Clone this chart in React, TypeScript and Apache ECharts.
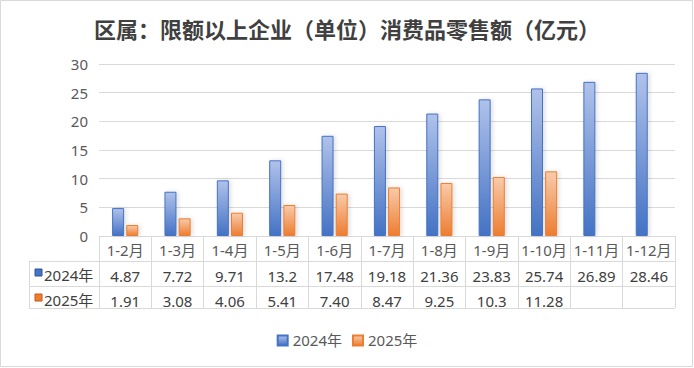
import React, { useEffect, useRef } from "react";
import * as echarts from "echarts";

const title = "区属：限额以上企业（单位）消费品零售额（亿元）";
const categories = ["1-2月", "1-3月", "1-4月", "1-5月", "1-6月", "1-7月", "1-8月", "1-9月", "1-10月", "1-11月", "1-12月"];
const seriesNames = ["2024年", "2025年"];
const values2024 = [4.87, 7.72, 9.71, 13.2, 17.48, 19.18, 21.36, 23.83, 25.74, 26.89, 28.46];
const values2025 = [1.91, 3.08, 4.06, 5.41, 7.4, 8.47, 9.25, 10.3, 11.28, null, null];
const labels2024 = ["4.87", "7.72", "9.71", "13.2", "17.48", "19.18", "21.36", "23.83", "25.74", "26.89", "28.46"];
const labels2025 = ["1.91", "3.08", "4.06", "5.41", "7.40", "8.47", "9.25", "10.3", "11.28", "", ""];
const yTicks = { min: 0, max: 30, interval: 5 };

const W = 694;
const H = 368;
const G = { left: 99, right: 19, top: 64, bottom: 132 };
const axisY = H - G.bottom;
const rowH = 25;
const tableLeft = 29;
const tableRight = W - G.right;
const lineColor = "#d9d9d9";

const blueGrad = () =>
  new echarts.graphic.LinearGradient(0, 0, 0, 1, [
    { offset: 0, color: "#b0c2ea" },
    { offset: 1, color: "#4472c4" },
  ]);
const orangeGrad = () =>
  new echarts.graphic.LinearGradient(0, 0, 0, 1, [
    { offset: 0, color: "#f8cbab" },
    { offset: 1, color: "#ed7d31" },
  ]);

export default function App() {
  const ref = useRef<HTMLDivElement>(null);
  useEffect(() => {
    if (!ref.current) return;
    const chart = echarts.init(ref.current, null, { renderer: "svg", width: W, height: H });
    const textColor = "#404040";
    const font = "'Noto Sans', 'Noto Sans CJK SC', sans-serif";
    const tableAxis = (offset: number, labels: string[]) => ({
      type: "category",
      gridIndex: 0,
      position: "bottom",
      offset,
      data: categories,
      axisLine: { show: false },
      axisTick: { show: false },
      splitLine: { show: false },
      axisLabel: {
        interval: 0,
        margin: 7,
        fontSize: 15,
        color: textColor,
        fontFamily: font,
        formatter: (_v: string, i: number) => labels[i] ?? "",
      },
    });
    const hLine = (y: number, x1: number) => ({
      type: "line",
      silent: true,
      shape: { x1, y1: y + 0.5, x2: tableRight, y2: y + 0.5 },
      style: { stroke: lineColor, lineWidth: 1 },
    });
    const rowLabel = (y: number, name: string, fill: string, stroke: string) => ({
      type: "group",
      children: [
        {
          type: "rect",
          shape: { x: 35, y: y + 8, width: 7, height: 7 },
          style: { fill, stroke, lineWidth: 1 },
        },
        {
          type: "text",
          style: {
            x: 44,
            y: y + rowH / 2 + 1,
            text: name,
            fontSize: 15,
            fill: textColor,
            fontFamily: font,
            verticalAlign: "middle",
            align: "left",
          },
        },
      ],
    });
    chart.setOption({
      animation: false,
      backgroundColor: "#ffffff",
      title: {
        text: title,
        left: "center",
        top: 12,
        textStyle: {
          fontSize: 22,
          fontWeight: "bold",
          color: "#404040",
          fontFamily: "'Noto Sans CJK SC', sans-serif",
        },
      },
      legend: {
        data: seriesNames,
        bottom: 15,
        left: "center",
        itemWidth: 10,
        itemHeight: 10,
        itemGap: 10,
        icon: "rect",
        textStyle: { fontSize: 15, color: "#595959", fontFamily: font },
      },
      grid: { left: G.left, right: G.right, top: G.top, bottom: G.bottom, containLabel: false },
      xAxis: [
        {
          type: "category",
          data: categories,
          axisLine: { show: true, lineStyle: { color: lineColor } },
          axisTick: { show: true, length: rowH * 3 - 3, lineStyle: { color: lineColor } },
          axisLabel: { interval: 0, margin: 6, fontSize: 15, color: "#595959", fontFamily: font },
        },
        tableAxis(rowH, labels2024),
        tableAxis(rowH * 2, labels2025),
      ],
      yAxis: {
        type: "value",
        min: yTicks.min,
        max: yTicks.max,
        interval: yTicks.interval,
        axisLine: { show: false },
        axisTick: { show: false },
        splitLine: { lineStyle: { color: lineColor } },
        axisLabel: { margin: 11, fontSize: 15, color: "#595959", fontFamily: font },
      },
      series: [
        {
          name: seriesNames[0],
          type: "bar",
          data: values2024,
          barWidth: 12,
          barGap: "18%",
          itemStyle: {
            color: blueGrad(),
            borderColor: "#4472c4",
            borderWidth: 1,
            shadowColor: "rgba(0,0,0,0.12)",
            shadowBlur: 4,
            shadowOffsetX: 2,
          },
        },
        {
          name: seriesNames[1],
          type: "bar",
          data: values2025,
          barWidth: 12,
          barGap: "18%",
          itemStyle: {
            color: orangeGrad(),
            borderColor: "#ed7d31",
            borderWidth: 1,
            shadowColor: "rgba(0,0,0,0.12)",
            shadowBlur: 4,
            shadowOffsetX: 2,
          },
        },
      ],
      graphic: [
        {
          type: "rect",
          silent: true,
          shape: { x: 0.5, y: 0.5, width: W - 2, height: H - 2 },
          style: { fill: "none", stroke: lineColor, lineWidth: 1 },
        },
        hLine(axisY + rowH, tableLeft),
        hLine(axisY + rowH * 2, tableLeft),
        hLine(axisY + rowH * 3 - 3, tableLeft),
        {
          type: "line",
          silent: true,
          shape: { x1: tableLeft + 0.5, y1: axisY + rowH, x2: tableLeft + 0.5, y2: axisY + rowH * 3 - 3 },
          style: { stroke: lineColor, lineWidth: 1 },
        },
        rowLabel(axisY + rowH, seriesNames[0], "#4472c4", "#2f5597"),
        rowLabel(axisY + rowH * 2, seriesNames[1], "#ed7d31", "#c55a11"),
      ],
    });
    return () => chart.dispose();
  }, []);
  return <div ref={ref} style={{ position: "fixed", left: 0, top: 0, width: W, height: H }} />;
}
